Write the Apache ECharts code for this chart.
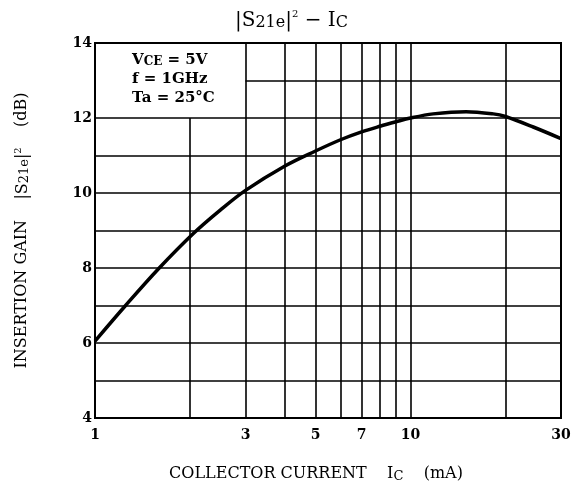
<!DOCTYPE html>
<html>
<head>
<meta charset="utf-8">
<script src="https://cdn.jsdelivr.net/npm/echarts@6/dist/echarts.min.js"></script>
<style>
html, body { margin: 0; background: #fff; }
#grafico { width: 577px; height: 488px; }
</style>
</head>
<body>
<div id="grafico"></div>
<script>
// Curva |S21e|^2 - Ic
const corriente = [1, 1.25, 1.59, 2.05, 2.5, 3, 4, 5, 6, 7, 8, 9, 10, 11.8, 15, 18.3, 20, 24.5, 30];
const ganancia = [6.05, 7.0, 7.98, 8.92, 9.55, 10.07, 10.72, 11.12, 11.42, 11.63, 11.78, 11.9, 12.0, 12.11, 12.17, 12.11, 12.04, 11.76, 11.45];

// Etiquetas de los ejes
const etiquetasX = [1, 3, 5, 7, 10, 30];

// Líneas de la rejilla
const rejillaX = [3, 4, 5, 6, 7, 8, 9, 10, 20];
const rejillaY = [5, 6, 7, 8, 9, 10, 11, 12];
// líneas cortadas por el recuadro de condiciones
const lineaX2 = [2, 4, 12];   // x, desde y, hasta y
const lineaY13 = [13, 3, 30]; // y, desde x, hasta x

const fuente = 'DejaVu Serif';

let lineasRejilla = [];
rejillaX.forEach(v => lineasRejilla.push({ xAxis: v }));
rejillaY.forEach(v => lineasRejilla.push({ yAxis: v }));
lineasRejilla.push([{ coord: [lineaX2[0], lineaX2[1]] }, { coord: [lineaX2[0], lineaX2[2]] }]);
lineasRejilla.push([{ coord: [lineaY13[1], lineaY13[0]] }, { coord: [lineaY13[2], lineaY13[0]] }]);

const grafico = echarts.init(document.getElementById('grafico'));

grafico.setOption({
    animation: false,
    backgroundColor: '#fff',
    title: {
        text: '{n||S}{sub|21e}{n||}{sup|2}{n| − I}{sub|C}',
        left: 230,
        top: 4,
        textStyle: {
            fontWeight: 'normal',
            rich: {
                n: { fontFamily: fuente, fontWeight: 'normal', fontSize: 20, color: '#000', verticalAlign: 'bottom' },
                sub: { fontFamily: fuente, fontWeight: 'normal', fontSize: 16, color: '#000', verticalAlign: 'bottom', padding: [6, 0, 0, 0] },
                sup: { fontFamily: fuente, fontWeight: 'normal', fontSize: 10, color: '#000', verticalAlign: 'top', padding: [0, 0, 8, 0] }
            }
        }
    },
    grid: {
        left: 95, right: 16, top: 43, bottom: 70,
        show: true, borderColor: '#000', borderWidth: 2, z: 10
    },
    xAxis: {
        type: 'log',
        logBase: 10,
        min: 1,
        max: 30,
        axisLine: { show: false },
        axisTick: { show: false },
        splitLine: { show: false },
        minorSplitLine: { show: false },
        axisLabel: {
            customValues: etiquetasX,
            margin: 10,
            fontFamily: fuente, fontWeight: 'bold', fontSize: 14, color: '#000'
        },
        name: 'COLLECTOR CURRENT    I{sub|C}    (mA)',
        nameLocation: 'middle',
        nameGap: 46,
        nameTextStyle: {
            fontFamily: fuente, fontSize: 16, color: '#000',
            padding: [0, 24, 0, 0],
            rich: {
                sub: { fontFamily: fuente, fontSize: 13, color: '#000', verticalAlign: 'bottom', padding: [6, 0, 0, 0] }
            }
        }
    },
    yAxis: {
        type: 'value',
        min: 4,
        max: 14,
        interval: 2,
        axisLine: { show: false },
        axisTick: { show: false },
        splitLine: { show: false },
        axisLabel: {
            margin: 3,
            fontFamily: fuente, fontWeight: 'bold', fontSize: 14, color: '#000'
        },
        name: 'INSERTION GAIN    {n||S}{sub|21e}{n||}{sup|2}    (dB)',
        nameLocation: 'middle',
        nameGap: 64,
        nameTextStyle: {
            fontFamily: fuente, fontSize: 16, color: '#000',
            rich: {
                n: { fontFamily: fuente, fontSize: 16, color: '#000', verticalAlign: 'bottom' },
                sub: { fontFamily: fuente, fontSize: 13, color: '#000', verticalAlign: 'bottom', padding: [5, 0, 0, 0] },
                sup: { fontFamily: fuente, fontSize: 10, color: '#000', verticalAlign: 'top', padding: [0, 0, 7, 0] }
            }
        }
    },
    graphic: [{
        type: 'text',
        left: 132,
        top: 51,
        z: 20,
        style: {
            text: '{n|V}{sub|CE}{n| = 5V}\n{n|f = 1GHz}\n{n|Ta = 25°C}',
            rich: {
                n: { fontFamily: fuente, fontWeight: 'bold', fontSize: 15, fill: '#000', lineHeight: 19, verticalAlign: 'bottom' },
                sub: { fontFamily: fuente, fontWeight: 'bold', fontSize: 12, fill: '#000', lineHeight: 19, verticalAlign: 'bottom', padding: [5, 0, 0, 0] }
            }
        }
    }],
    series: [{
        type: 'line',
        data: corriente.map((v, i) => [v, ganancia[i]]),
        smooth: 0.35,
        symbol: 'none',
        lineStyle: { color: '#000', width: 3.5 },
        z: 5,
        markLine: {
            silent: true,
            symbol: ['none', 'none'],
            label: { show: false },
            lineStyle: { color: '#000', width: 1.6, type: 'solid' },
            emphasis: { disabled: true },
            data: lineasRejilla
        }
    }]
});
</script>
</body>
</html>
